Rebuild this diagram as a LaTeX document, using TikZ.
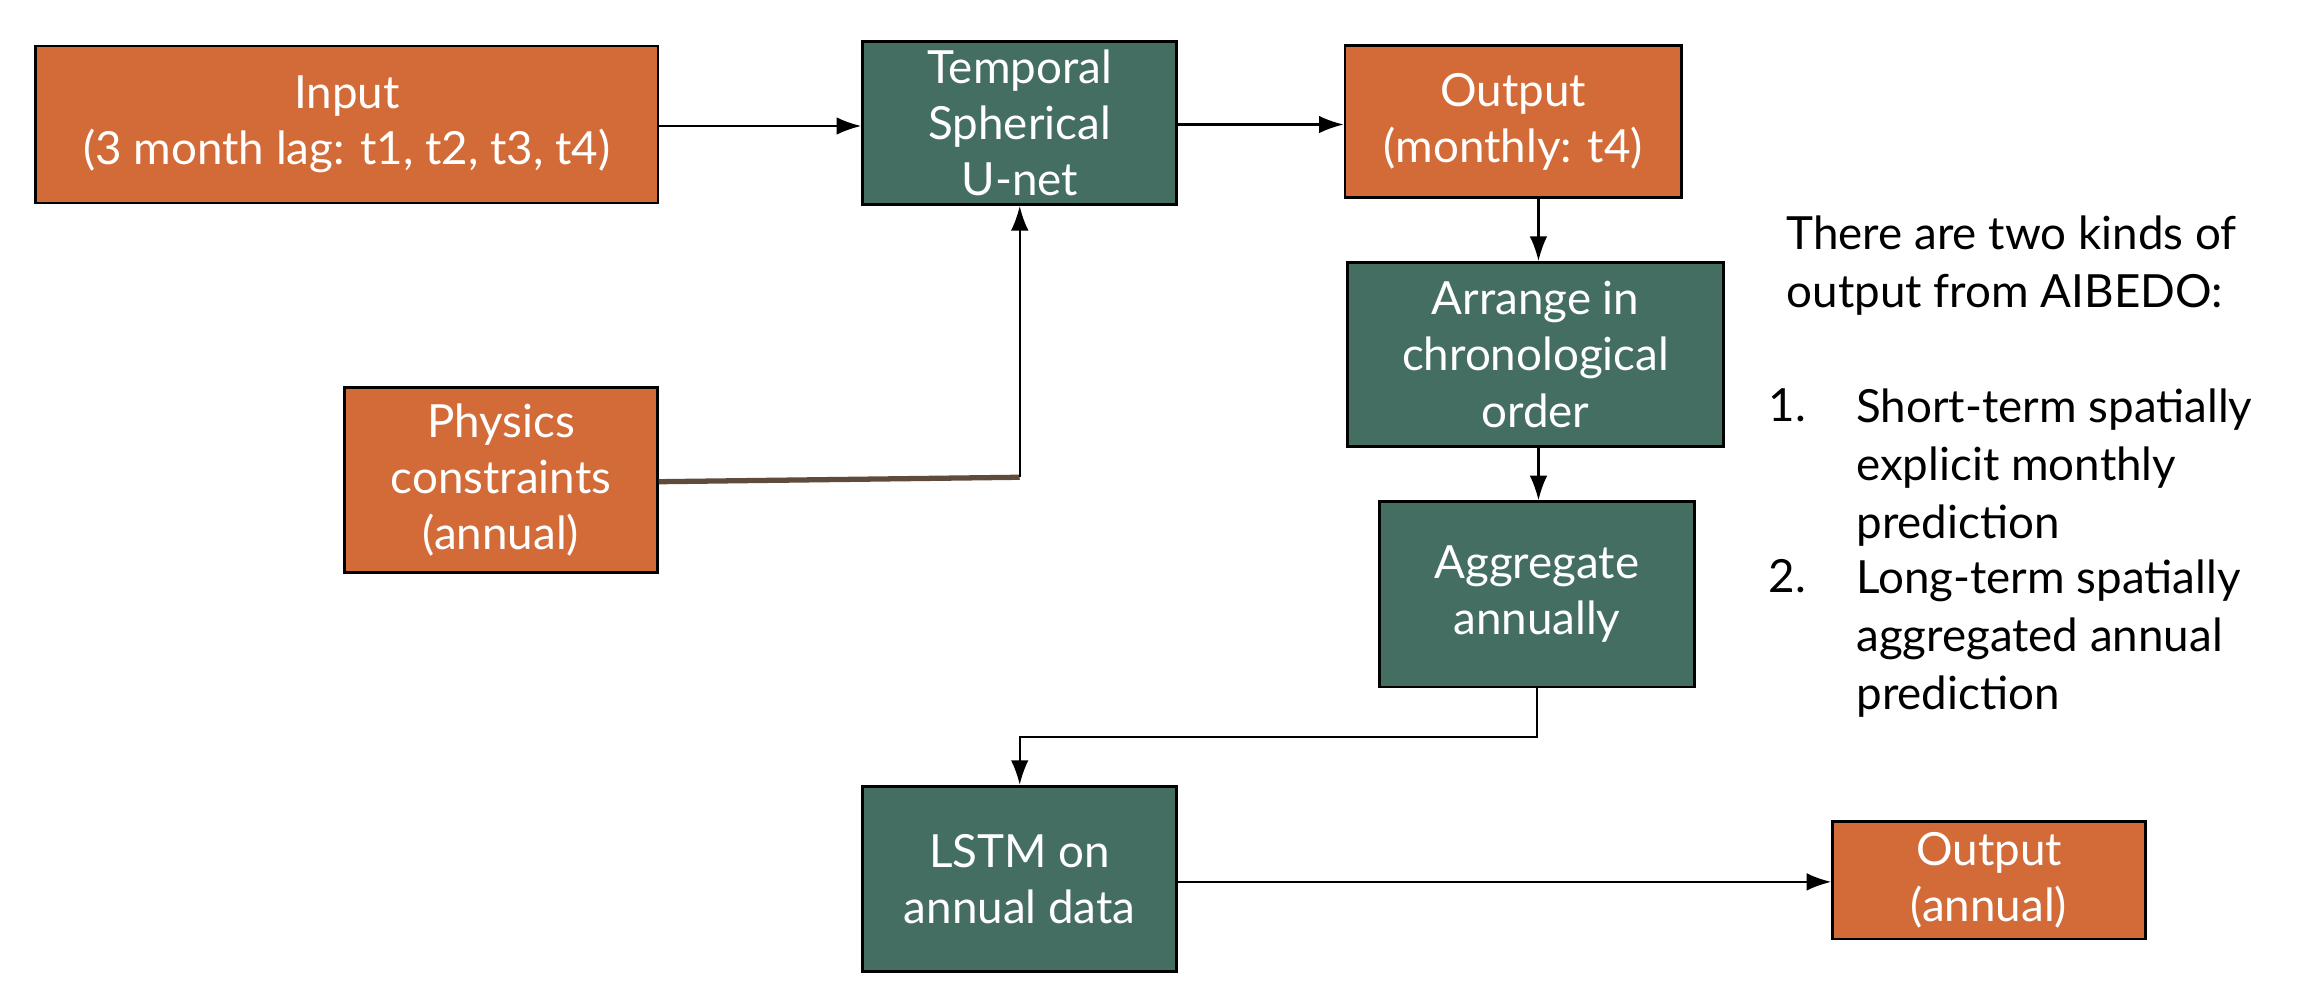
\documentclass[tikz,border=0pt]{standalone}
\usepackage{fontspec}
\setmainfont{Lato}
\usetikzlibrary{arrows.meta}
\definecolor{org}{HTML}{D36B38}
\definecolor{grn}{HTML}{456E62}
\begin{document}
\begin{tikzpicture}[x=0.01482cm,y=-0.01482cm,
 box/.style={draw=black,line width=0.8pt,text=white,align=center,font=\fontsize{13}{16}\selectfont,inner sep=0pt},
 ob/.style={box,fill=org},gb/.style={box,fill=grn},
 arr/.style={-{Latex[length=7pt,width=5pt]},line width=0.6pt}]
\useasboundingbox (0,0) rectangle (1568,680);
\node[ob,minimum width=420*0.01482cm,minimum height=106*0.01482cm] (in) at (234,84) {Input\\(3 month lag: t1, t2, t3, t4)};
\node[gb,minimum width=212*0.01482cm,minimum height=110*0.01482cm] (tsu) at (688,83) {Temporal\\Spherical\\U-net};
\node[ob,minimum width=227*0.01482cm,minimum height=103*0.01482cm] (om) at (1021,82) {Output\\(monthly: t4)};
\node[gb,minimum width=254*0.01482cm,minimum height=124*0.01482cm] (ar) at (1036,239) {Arrange in\\chronological\\order};
\node[gb,minimum width=212*0.01482cm,minimum height=125*0.01482cm] (ag) at (1037,401) {Aggregate\\annually};
\node[ob,minimum width=211*0.01482cm,minimum height=125*0.01482cm] (ph) at (338,324) {Physics\\constraints\\(annual)};
\node[gb,minimum width=212*0.01482cm,minimum height=125*0.01482cm] (ls) at (688,593) {LSTM on\\annual data};
\node[ob,minimum width=211*0.01482cm,minimum height=79*0.01482cm] (oa) at (1342,594) {Output\\(annual)};
\node[anchor=north west,align=left,font=\fontsize{13}{16.5}\selectfont,inner sep=0pt] (txt) at (1205,145) {There are two kinds of\\output from AIBEDO:};
\node[anchor=north west,align=left,font=\fontsize{13}{16.5}\selectfont,inner sep=0pt] (l1) at (1193,262) {1.};
\node[anchor=north west,align=left,font=\fontsize{13}{16.5}\selectfont,inner sep=0pt] (l1t) at (1252,262) {Short-term spatially\\explicit monthly\\prediction};
\node[anchor=north west,align=left,font=\fontsize{13}{16.5}\selectfont,inner sep=0pt] (l2) at (1193,377) {2.};
\node[anchor=north west,align=left,font=\fontsize{13}{16.5}\selectfont,inner sep=0pt] (l2t) at (1252,377) {Long-term spatially\\aggregated annual\\prediction};
\coordinate (c1) at (688,322);
\coordinate (c2) at (1037,497);
\coordinate (c3) at (688,497);
\draw[arr] (in.east|-0,85) -- (tsu.west|-0,85);
\draw[arr] (tsu.east|-0,84) -- (om.west|-0,84);
\draw[arr] (om.south-|1038,0) -- (ar.north-|1038,0);
\draw[arr] (ar.south-|1038,0) -- (ag.north-|1038,0);
\draw[arr] (ag.south) -- (c2) -- (c3) -- (ls.north);
\draw[line width=1.5pt,draw={rgb,255:red,95;green,75;blue,60}] (ph.east|-0,325) -- (c1);
\draw[arr] (c1) -- (tsu.south);
\draw[arr] (ls.east|-0,595) -- (oa.west|-0,595);
\end{tikzpicture}
\end{document}
